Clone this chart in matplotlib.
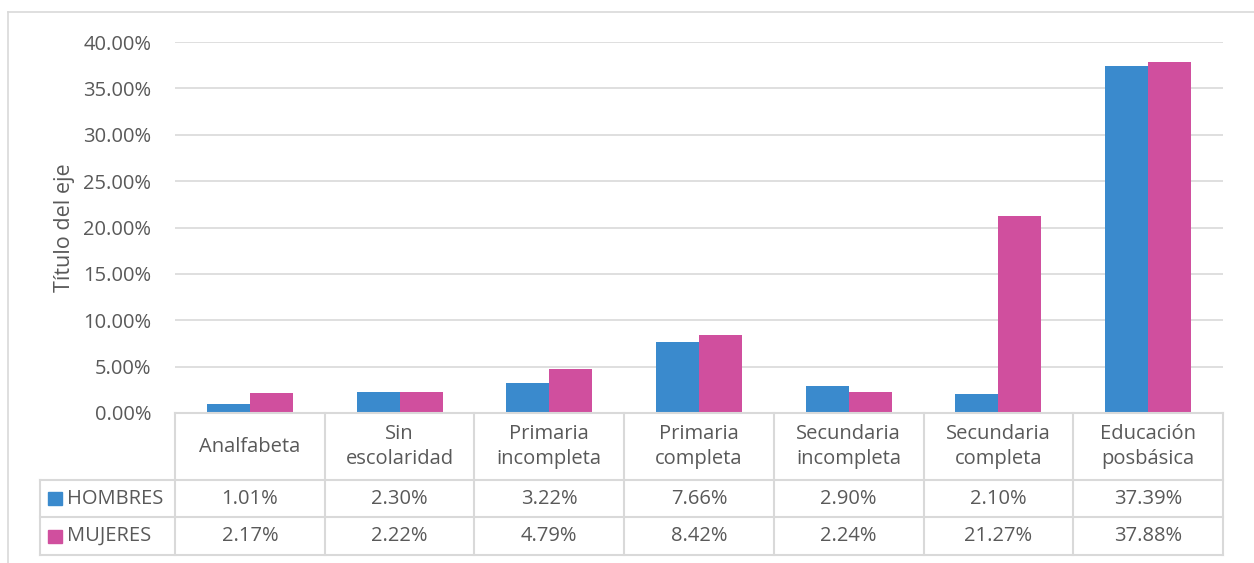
import matplotlib

matplotlib.use("Agg")
import matplotlib.pyplot as plt
import matplotlib.transforms as mtransforms
from matplotlib.lines import Line2D
from matplotlib.patches import Rectangle
from matplotlib.ticker import FuncFormatter, MultipleLocator

plt.rcParams["font.family"] = ["Open Sans", "DejaVu Sans"]

categories = ["Analfabeta", "Sin\nescolaridad", "Primaria\nincompleta", "Primaria\ncompleta",
              "Secundaria\nincompleta", "Secundaria\ncompleta", "Educación\nposbásica"]
hombres = [1.01, 2.30, 3.22, 7.66, 2.90, 2.10, 37.39]
mujeres = [2.17, 2.22, 4.79, 8.42, 2.24, 21.27, 37.88]
series = [("HOMBRES", hombres, "#3a8acd"), ("MUJERES", mujeres, "#d04f9e")]

W, H = 1254, 563
TXT = "#595959"
GRID = "#d9d9d9"
FS = 14.5

fig = plt.figure(figsize=(W / 100, H / 100), dpi=100)


def fx(px):
    return px / W


def fy(py):
    return 1 - py / H


ax = fig.add_axes([fx(175), fy(413), fx(1223) - fx(175), fy(42) - fy(413)])
n = len(categories)
width = 0.287
for k, (name, vals, color) in enumerate(series):
    xs = [i + (k - 0.5) * width for i in range(n)]
    ax.bar(xs, vals, width=width, color=color, zorder=3)

ax.set_xlim(-0.5, n - 0.5)
ax.set_ylim(0, 40)
ax.yaxis.set_major_locator(MultipleLocator(5))
ax.yaxis.set_major_formatter(FuncFormatter(lambda v, _: f"{v:.2f}%"))
ax.grid(axis="y", color=GRID, lw=1.2, zorder=0)
ax.set_xticks([])
for s in ax.spines.values():
    s.set_visible(False)
ax.tick_params(axis="y", length=0, pad=17, labelsize=FS, labelcolor=TXT)
ax.set_ylabel("Título del eje", fontsize=15.5, color=TXT, labelpad=6)

# data table below the plot
blend = mtransforms.blended_transform_factory(ax.transData, fig.transFigure)
rows_y = [413, 480, 517, 555]
line_kw = dict(color=GRID, lw=1.5)
fig.add_artist(Line2D([fx(175), fx(1223)], [fy(413), fy(413)], **line_kw))
for yy in rows_y[1:]:
    fig.add_artist(Line2D([fx(40), fx(1223)], [fy(yy), fy(yy)], **line_kw))
fig.add_artist(Line2D([fx(40), fx(40)], [fy(480), fy(555)], **line_kw))
for i in range(n + 1):
    fig.add_artist(Line2D([i - 0.5, i - 0.5], [fy(413), fy(555)], transform=blend, **line_kw))

for i, cat in enumerate(categories):
    fig.text(i, fy((413 + 480) / 2), cat, transform=blend, ha="center", va="center",
             fontsize=FS, color=TXT, linespacing=1.35)
    for r, (name, vals, color) in enumerate(series):
        yc = fy((rows_y[r + 1] + rows_y[r + 2]) / 2)
        fig.text(i, yc, f"{vals[i]:.2f}%", transform=blend, ha="center", va="center",
                 fontsize=FS, color=TXT)

for r, (name, vals, color) in enumerate(series):
    yc = (rows_y[r + 1] + rows_y[r + 2]) / 2
    fig.add_artist(Rectangle((fx(48), fy(yc + 6.5)), fx(14), fy(yc - 6.5) - fy(yc + 6.5),
                             color=color, transform=fig.transFigure))
    fig.text(fx(67), fy(yc), name, ha="left", va="center", fontsize=FS, color=TXT)

# chart border (left and top visible)
fig.add_artist(Line2D([fx(8), fx(8)], [fy(12), 0], color=GRID, lw=1.2))
fig.add_artist(Line2D([fx(8), 1], [fy(12), fy(12)], color=GRID, lw=1.2))

fig.savefig("out.png", dpi=100)
